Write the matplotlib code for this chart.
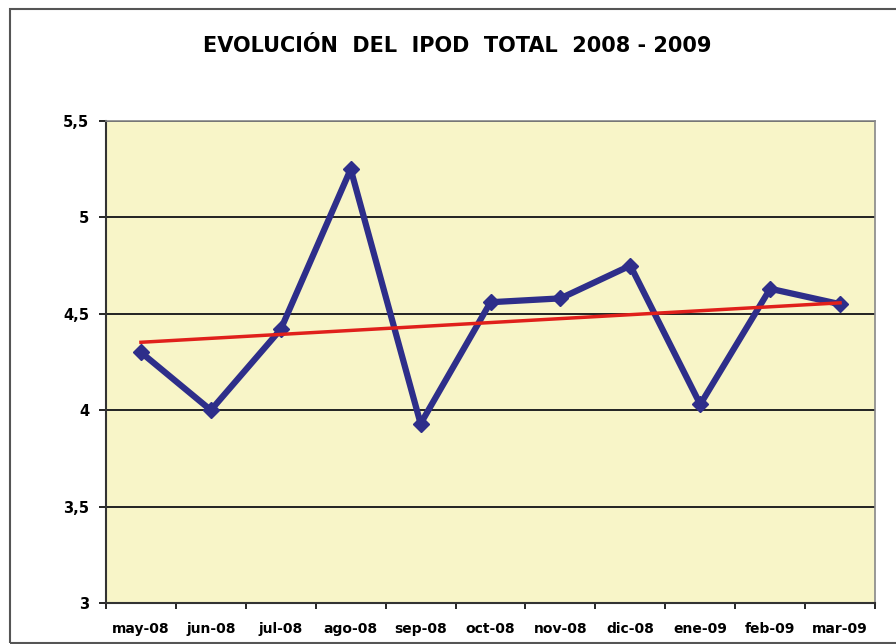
import matplotlib.pyplot as plt
import matplotlib.patches as patches
import numpy as np

# datos IPOD total
meses = ["may-08", "jun-08", "jul-08", "ago-08", "sep-08", "oct-08",
         "nov-08", "dic-08", "ene-09", "feb-09", "mar-09"]
ipod = [4.30, 4.00, 4.42, 5.25, 3.93, 4.56, 4.58, 4.75, 4.03, 4.63, 4.55]
yticks = [3, 3.5, 4, 4.5, 5, 5.5]
ylabels = ["3", "3,5", "4", "4,5", "5", "5,5"]

fig = plt.figure(figsize=[8.96, 6.44], dpi=100)
ax = fig.add_axes([0.1183, 0.0637, 0.8583, 0.7484])
ax.set_facecolor("#F8F5C8")

x = np.arange(len(meses))
# linea de tendencia (regresion lineal)
m, b = np.polyfit(x, ipod, 1)
ax.plot(x, ipod, color="#2E2E8A", linewidth=4.5, marker="D", markersize=8,
        zorder=3)
ax.plot([x[0], x[-1]], [m * x[0] + b, m * x[-1] + b], color="#E0201B",
        linewidth=2.5, zorder=4)

ax.set_xlim(-0.5, len(meses) - 0.5)
ax.set_ylim(3, 5.5)
ax.set_yticks(yticks)
ax.set_yticklabels(ylabels, fontweight="bold", fontsize=10.5)
ax.set_xticks(x)
ax.set_xticklabels(meses, fontweight="bold", fontsize=10)
ax.set_xticks(np.arange(-0.5, len(meses)), minor=True)
ax.tick_params(axis="x", which="major", length=0, pad=14)
ax.tick_params(axis="x", which="minor", length=4, direction="out", width=1.2)
ax.tick_params(axis="y", length=5, width=1.2, pad=7)
ax.yaxis.grid(True, color="#222222", linewidth=1.4)
ax.set_axisbelow(True)

for s in ["left", "bottom"]:
    ax.spines[s].set_color("#333333")
    ax.spines[s].set_linewidth(1.5)
for s in ["top", "right"]:
    ax.spines[s].set_color("#888888")
    ax.spines[s].set_linewidth(1.2)

fig.text(0.51, 0.929, "EVOLUCIÓN  DEL  IPOD  TOTAL  2008 - 2009",
         ha="center", va="center", fontsize=15, fontweight="bold")

# marco del grafico
fig.patches.append(patches.Rectangle((0.0112, 0.0016), 1.2, 0.984,
                                     transform=fig.transFigure, fill=False,
                                     edgecolor="#555555", linewidth=1.5))

fig.savefig("out.png")
plt.close()
